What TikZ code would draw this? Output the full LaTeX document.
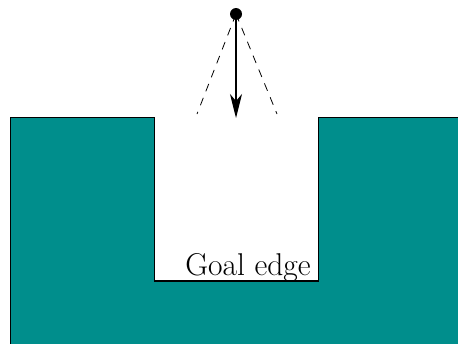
\documentclass[tikz,border=0pt]{standalone}
\usetikzlibrary{arrows.meta}
\definecolor{wallteal}{RGB}{0,142,140}
\begin{document}
\begin{tikzpicture}[x=1pt,y=-1pt,
  wall/.style={fill=wallteal,draw=black,line width=0.9pt},
  ray/.style={line width=0.8pt,dash pattern=on 8pt off 7pt},
  goal/.style={line width=2.8pt}]
\useasboundingbox (0,0) rectangle (458,343);
\begin{scope}
\clip (0,0) rectangle (458,343);
\draw[wall] (10,360) -- (10,117) -- (154,117) -- (154,281) -- (318,281) -- (318,117) -- (470,117) -- (470,360) -- cycle;
\end{scope}
\coordinate (gl) at (154,281);
\coordinate (gr) at (318,281);
\draw[goal] (gl) -- (gr);
\node[font=\fontsize{31.5}{36}\selectfont,anchor=base] (lbl) at (248,275) {Goal edge};
\node[circle,fill=black,inner sep=0pt,minimum size=12pt] (src) at (236,14) {};
\coordinate (tip) at (236,118);
\coordinate (dl) at (197,114);
\coordinate (dr) at (277,114);
\draw[line width=1.1pt,-{Stealth[length=24pt,width=12pt,inset=7pt]}] (src.center) -- (tip);
\draw[ray] (src.center) -- (dl);
\draw[ray] (src.center) -- (dr);
\end{tikzpicture}
\end{document}
